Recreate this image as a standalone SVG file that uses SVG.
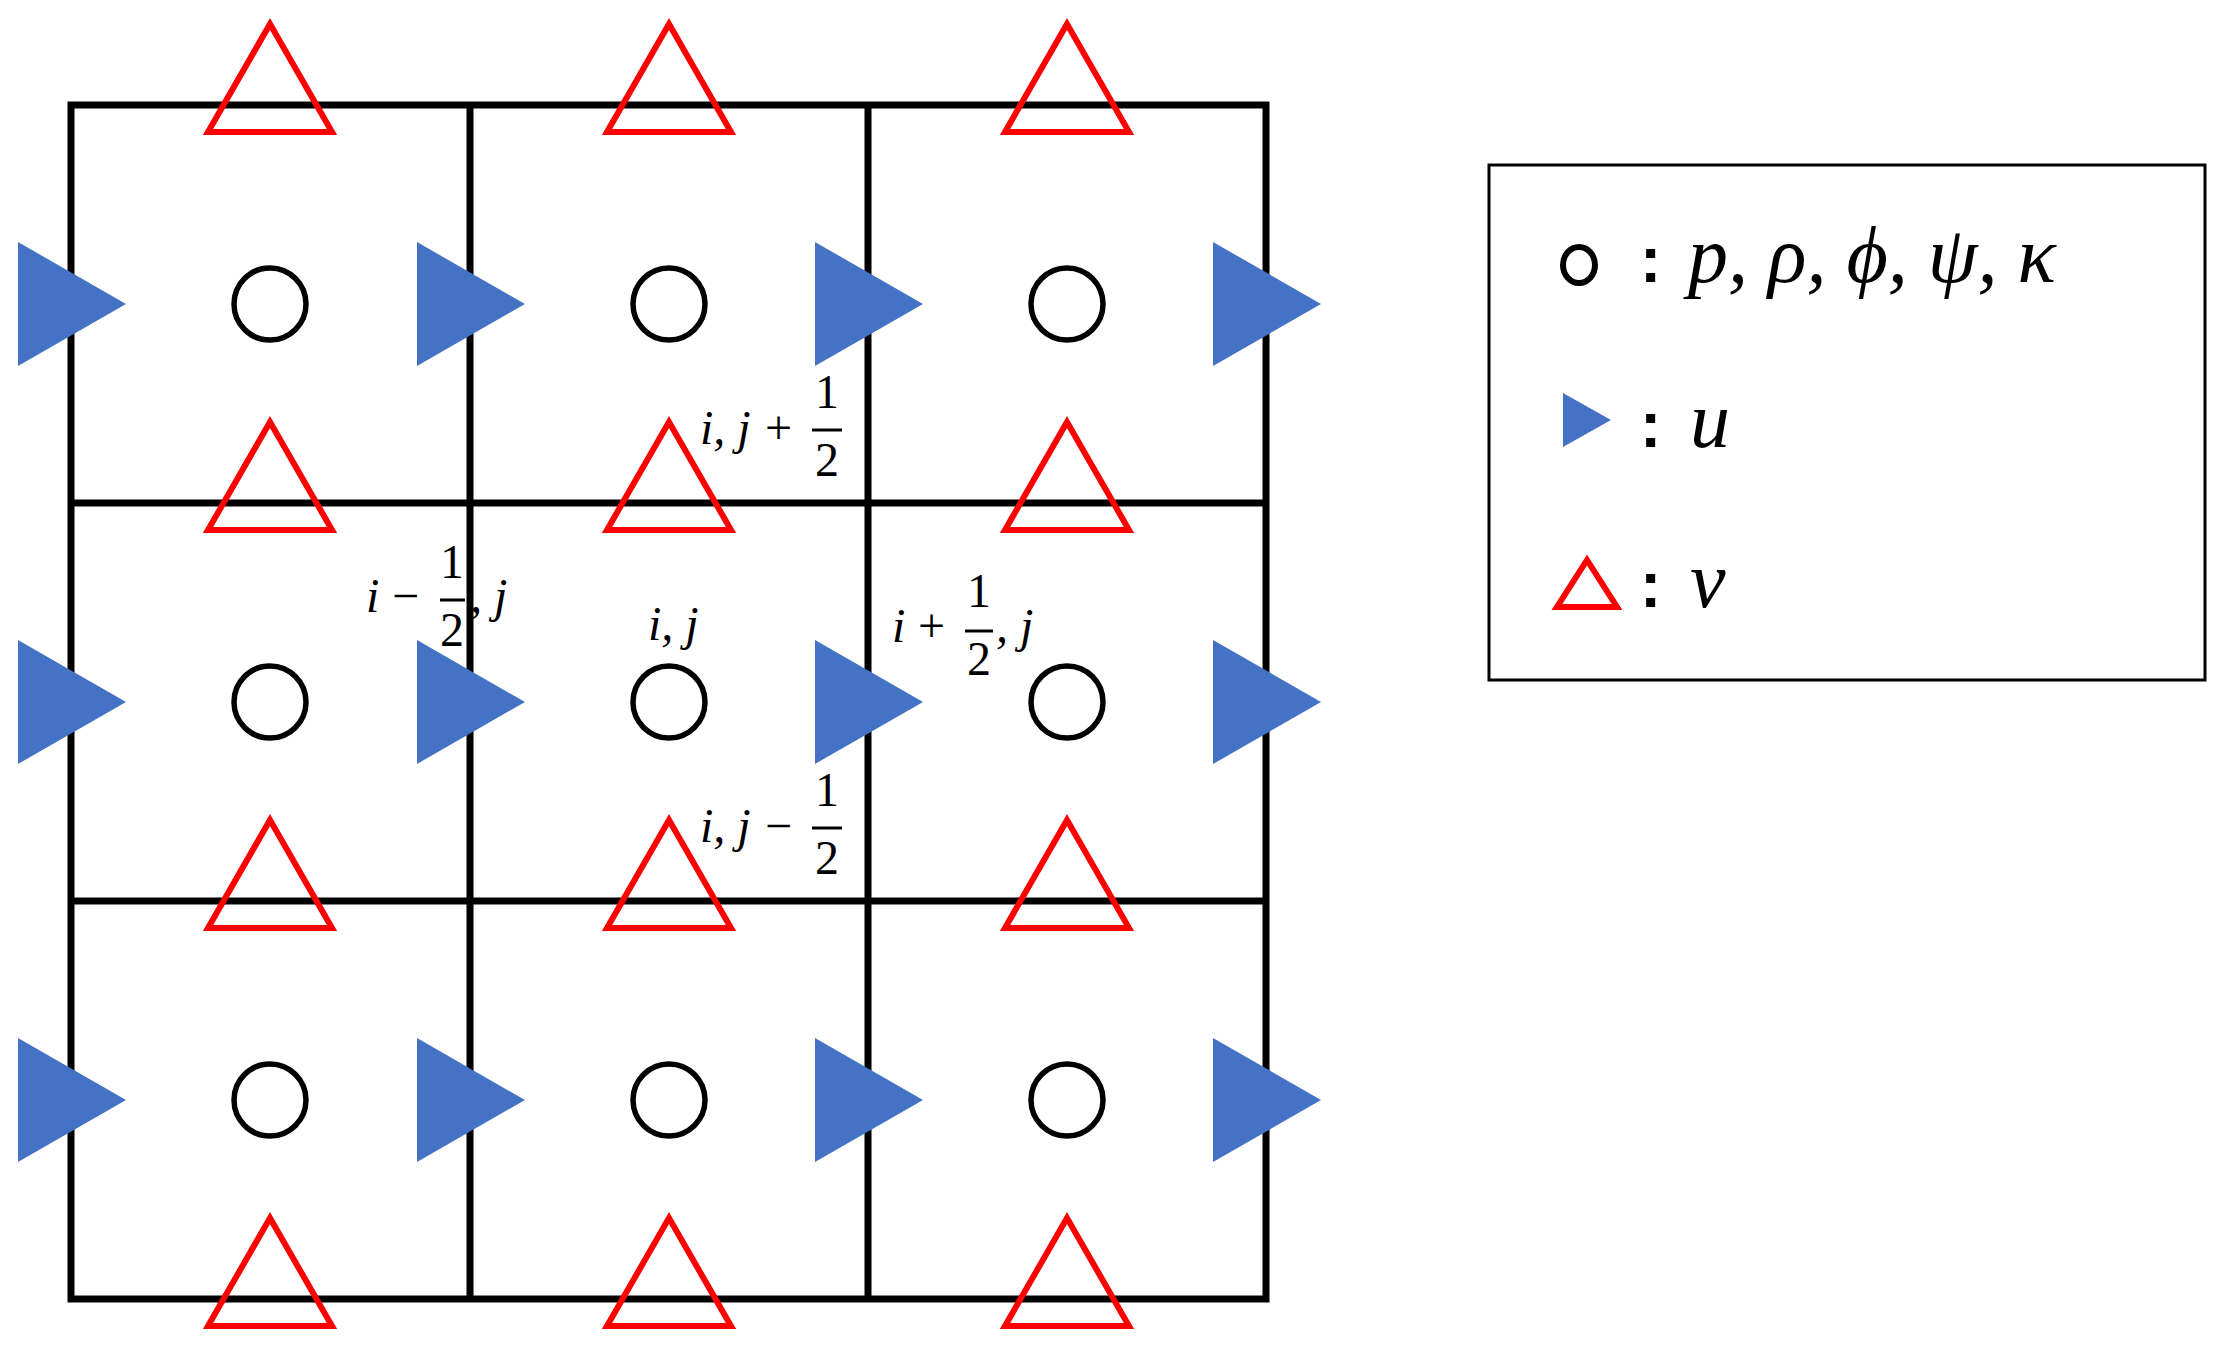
<svg xmlns="http://www.w3.org/2000/svg" width="2228" height="1353" viewBox="0 0 2228 1353">
<style>
.g{stroke:#000;stroke-width:7;fill:none;stroke-linecap:square}
.c{fill:none;stroke:#000;stroke-width:5.5}
.u{fill:#4472C4}
.v{fill:none;stroke:#FF0000;stroke-width:6}
.t{font-family:"Liberation Serif",serif;font-size:48px;font-style:italic;fill:#000}
.n{font-family:"Liberation Serif",serif;font-size:48px;fill:#000}
.L{font-family:"Liberation Serif",serif;font-size:80px;font-style:italic;fill:#000}
.Ln{font-family:"Liberation Sans",sans-serif;font-size:64px;font-weight:bold;fill:#000}
</style>
<defs>
<polygon id="U" class="u" points="-53,-62 55,0 -53,62"/>
<polygon id="V" class="v" points="0,-81 -62,27 62,27"/>
<circle id="C" class="c" r="36"/>
</defs>
<g id="grid">
<path class="g" d="M71,105H1266V1299H71Z M470,105V1299 M868,105V1299 M71,503H1266 M71,901H1266"/>
</g>
<g id="p-nodes">
<use href="#C" x="270" y="304"/><use href="#C" x="669" y="304"/><use href="#C" x="1067" y="304"/>
<use href="#C" x="270" y="702"/><use href="#C" x="669" y="702"/><use href="#C" x="1067" y="702"/>
<use href="#C" x="270" y="1100"/><use href="#C" x="669" y="1100"/><use href="#C" x="1067" y="1100"/>
</g>
<g id="u-nodes">
<use href="#U" x="71" y="304"/><use href="#U" x="470" y="304"/><use href="#U" x="868" y="304"/><use href="#U" x="1266" y="304"/>
<use href="#U" x="71" y="702"/><use href="#U" x="470" y="702"/><use href="#U" x="868" y="702"/><use href="#U" x="1266" y="702"/>
<use href="#U" x="71" y="1100"/><use href="#U" x="470" y="1100"/><use href="#U" x="868" y="1100"/><use href="#U" x="1266" y="1100"/>
</g>
<g id="v-nodes">
<use href="#V" x="270" y="105"/><use href="#V" x="669" y="105"/><use href="#V" x="1067" y="105"/>
<use href="#V" x="270" y="503"/><use href="#V" x="669" y="503"/><use href="#V" x="1067" y="503"/>
<use href="#V" x="270" y="901"/><use href="#V" x="669" y="901"/><use href="#V" x="1067" y="901"/>
<use href="#V" x="270" y="1299"/><use href="#V" x="669" y="1299"/><use href="#V" x="1067" y="1299"/>
</g>
<g id="labels">
<text class="t" x="700" y="444">i, j</text><text class="n" x="765" y="444">+</text>
<line x1="812" y1="430" x2="842" y2="430" stroke="#000" stroke-width="3"/>
<text class="n" x="827" y="408" text-anchor="middle">1</text><text class="n" x="827" y="476" text-anchor="middle">2</text>

<text class="t" x="700" y="842">i, j</text><text class="n" x="765" y="842">−</text>
<line x1="812" y1="828" x2="842" y2="828" stroke="#000" stroke-width="3"/>
<text class="n" x="827" y="806" text-anchor="middle">1</text><text class="n" x="827" y="874" text-anchor="middle">2</text>

<text class="t" x="366" y="612">i</text><text class="n" x="392" y="612">−</text>
<line x1="440" y1="600" x2="465" y2="600" stroke="#000" stroke-width="3"/>
<text class="n" x="452" y="578" text-anchor="middle">1</text><text class="n" x="452" y="646" text-anchor="middle">2</text>
<text class="t" x="470" y="612">, j</text>

<text class="t" x="648" y="640">i, j</text>

<text class="t" x="892" y="642">i</text><text class="n" x="918" y="642">+</text>
<line x1="965" y1="631" x2="993" y2="631" stroke="#000" stroke-width="3"/>
<text class="n" x="979" y="607" text-anchor="middle">1</text><text class="n" x="979" y="675" text-anchor="middle">2</text>
<text class="t" x="996" y="642">, j</text>
</g>
<g id="legend">
<rect x="1489" y="165" width="716" height="515" fill="none" stroke="#000" stroke-width="3"/>
<ellipse cx="1579" cy="265" rx="16" ry="18" fill="none" stroke="#000" stroke-width="6"/>
<text class="Ln" x="1640" y="282">:</text>
<text class="L" x="1688" y="282">p, ρ, ϕ, ψ, κ</text>
<polygon class="u" points="1563,393 1611,420 1563,447"/>
<text class="Ln" x="1640" y="447">:</text>
<text class="L" x="1690" y="447">u</text>
<polygon class="v" points="1587,560 1557,607 1617,607" stroke-width="5"/>
<text class="Ln" x="1640" y="607">:</text>
<text class="L" x="1690" y="607">v</text>
</g>
</svg>
